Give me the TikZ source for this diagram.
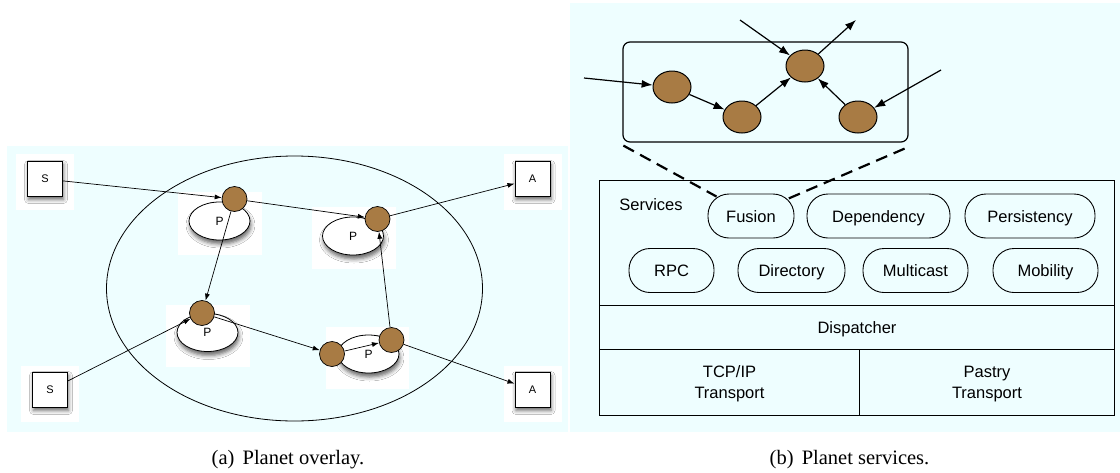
\documentclass[tikz,border=0pt]{standalone}
\usepackage{fontspec}
\setmainfont{Liberation Serif}
\newfontfamily\diagsans{Liberation Sans}
\usetikzlibrary{shapes.geometric,arrows.meta,shadows.blur,calc}
\definecolor{bgcyan}{RGB}{238,254,255}
\definecolor{nodebrown}{RGB}{168,123,68}
\begin{document}
\begin{tikzpicture}[x=1pt,y=-1pt,
  halo/.style={fill=white,draw=none},
  sabox/.style={rectangle,draw=black,fill=white,line width=1pt,minimum width=35pt,minimum height=35pt,inner sep=0pt,
    font=\diagsans\fontsize{11}{13}\selectfont,
    blur shadow={shadow xshift=1pt,shadow yshift=-3pt,shadow blur radius=4pt,shadow opacity=60}},
  pell/.style={ellipse,draw=black,fill=white,line width=0.8pt,minimum width=61pt,minimum height=38pt,inner sep=0pt,
    font=\diagsans\fontsize{12}{14}\selectfont,
    blur shadow={shadow xshift=1pt,shadow yshift=-4pt,shadow blur radius=4pt,shadow opacity=60}},
  pnode/.style={circle,draw=black,fill=nodebrown,line width=0.7pt,minimum size=25pt,inner sep=0pt},
  parrow/.style={-{Latex[length=7pt,width=5pt]},line width=0.7pt},
  bnode/.style={ellipse,draw=black,fill=nodebrown,line width=1pt,minimum width=38pt,minimum height=32pt,inner sep=0pt},
  barrow/.style={-{Latex[length=11pt,width=8pt]},line width=1.2pt},
  pill/.style={rectangle,draw=black,line width=0.9pt,rounded corners=21pt,minimum height=44pt,inner sep=0pt,
    text height=12pt,text depth=0pt,
    font=\diagsans\fontsize{16.5}{20}\selectfont},
  layer/.style={rectangle,draw=black,line width=1pt,inner sep=0pt,anchor=north west,align=center,
    font=\diagsans\fontsize{16.5}{21}\selectfont},
  dashlink/.style={line width=2.2pt,dash pattern=on 12pt off 7pt},
  captext/.style={font=\fontsize{20.5}{24}\selectfont,inner sep=0pt}
]
\path[use as bounding box] (0,0) rectangle (1120,472);
% backgrounds
\fill[bgcyan] (7,146) rectangle (568,432);
\fill[bgcyan] (570,3) rectangle (1120,432);

% ---------- (a) Planet overlay ----------
\fill[halo] (16,154) rectangle (74,210);
\fill[halo] (504,154) rectangle (562,210);
\fill[halo] (21,366) rectangle (79,422);
\fill[halo] (504,366) rectangle (562,422);
\fill[halo] (178,192) rectangle (262,255);
\fill[halo] (312,207) rectangle (396,269);
\fill[halo] (166,305) rectangle (250,367);
\fill[halo] (326,327) rectangle (409,389);

\draw[line width=0.8pt] (294.5,288.5) ellipse [x radius=188, y radius=132.5];

\node[pell] (e1) at (219.5,221) {P};
\node[pell] (e2) at (353,236) {P};
\node[pell] (e3) at (207.5,332.5) {P};
\node[pell] (e4) at (368.5,354) {P};

\node[sabox] (s1) at (45,179) {S};
\node[sabox] (a1) at (532.5,179) {A};
\node[sabox] (s2) at (50,390) {S};
\node[sabox] (a2) at (532.5,390) {A};

\node[pnode] (n1) at (234.5,199) {};
\node[pnode] (n2) at (377.5,219) {};
\node[pnode] (n3) at (202,313) {};
\node[pnode] (n4) at (332,354) {};
\node[pnode] (n5) at (391.5,340) {};

\draw[parrow] (s1) -- (n1);
\draw[parrow] (n1) -- (n2);
\draw[parrow] (n2) -- (a1);
\draw[parrow] (n1) -- (n3);
\draw[parrow] (s2) -- (n3);
\draw[parrow] (n3) -- (n4);
\draw[parrow] (n4) -- (n5);
\draw[parrow] (n5) -- (n2);
\draw[parrow] (n5) -- (a2);

% ---------- (b) Planet services ----------
\node[rectangle,draw=black,line width=1.2pt,rounded corners=7pt,minimum width=285pt,minimum height=100pt,inner sep=0pt] (grp) at (765.5,92) {};
\node[bnode] (b1) at (672,87) {};
\node[bnode] (b2) at (742,117) {};
\node[bnode] (b3) at (805,66) {};
\node[bnode] (b4) at (858,117) {};
\coordinate (in1) at (584,78);
\coordinate (in2) at (740,20);
\coordinate (out1) at (856,20);
\coordinate (in3) at (941,70);
\draw[barrow] (in1) -- (b1);
\draw[barrow] (b1) -- (b2);
\draw[barrow] (b2) -- (b3);
\draw[barrow] (b4) -- (b3);
\draw[barrow] (in2) -- (b3);
\draw[barrow] (b3) -- (out1);
\draw[barrow] (in3) -- (b4);

\node[layer,minimum width=515pt,minimum height=125pt] (svc) at (599,180) {};
\node[layer,minimum width=515pt,minimum height=44pt,text height=12pt,text depth=0pt] (disp) at (599,305) {Dispatcher};
\node[layer,minimum width=260pt,minimum height=66pt,text depth=0pt] (tcp) at (599,349) {TCP/IP\\Transport};
\node[layer,minimum width=255pt,minimum height=66pt,text depth=0pt] (pastry) at (859,349) {Pastry\\Transport};
\node[font=\diagsans\fontsize{16.5}{20}\selectfont,inner sep=0pt] (svclabel) at (651,205) {Services};

\node[pill,minimum width=86pt] (fusion) at (751,216) {Fusion};
\node[pill,minimum width=143pt] (dep) at (878.5,216) {Dependency};
\node[pill,minimum width=130pt] (pers) at (1030,216) {Persistency};
\node[pill,minimum width=85pt] (rpc) at (671.5,270.5) {RPC};
\node[pill,minimum width=107pt] (dir) at (791.5,270.5) {Directory};
\node[pill,minimum width=105pt] (mc) at (915.5,270.5) {Multicast};
\node[pill,minimum width=105pt] (mob) at (1045.5,270.5) {Mobility};

\draw[dashlink] ($(grp.south west)+(1,3)$) -- ($(fusion.north west)+(9,3)$);
\draw[dashlink] ($(grp.south east)+(-4,6)$) -- ($(fusion.north east)+(-6,5)$);

% captions
\node[captext] (capa) at (288,460) {(a)\hspace{0.4em}Planet overlay.};
\node[captext] (capb) at (849.5,460) {(b)\hspace{0.4em}Planet services.};
\end{tikzpicture}
\end{document}
